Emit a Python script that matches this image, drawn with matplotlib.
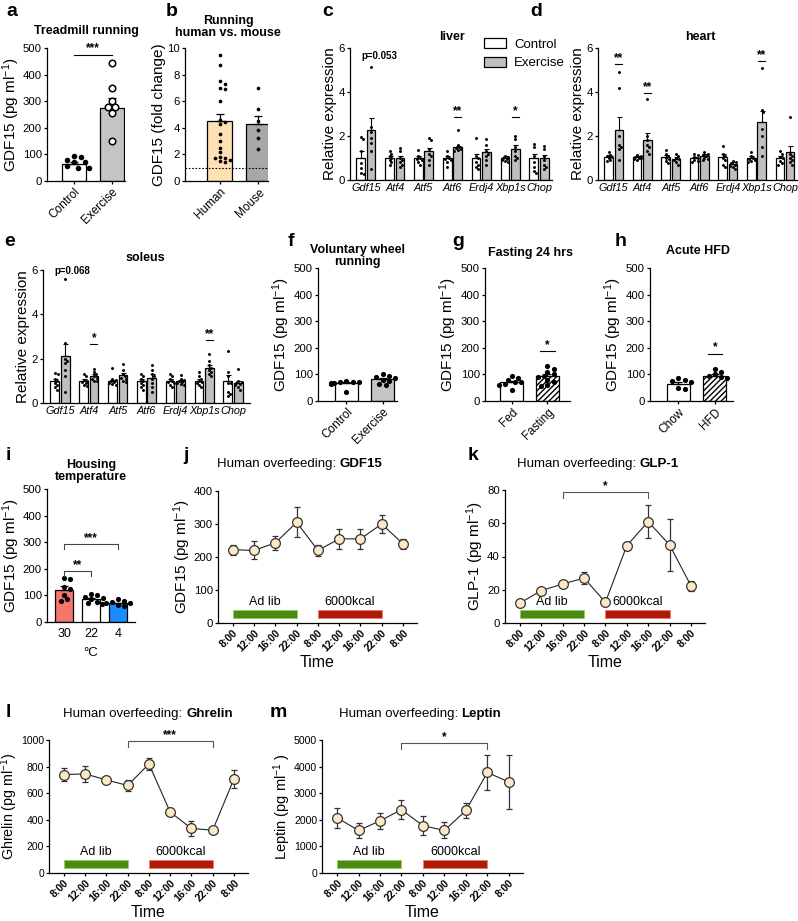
import numpy as np
import matplotlib
matplotlib.use("Agg")
import matplotlib.pyplot as plt
from matplotlib.patches import Rectangle, Patch

plt.rcParams['font.family'] = ['Liberation Sans', 'DejaVu Sans']
plt.rcParams['mathtext.fontset'] = 'custom'
plt.rcParams['mathtext.rm'] = 'Liberation Sans'
plt.rcParams['mathtext.it'] = 'Liberation Sans:italic'
plt.rcParams['mathtext.bf'] = 'Liberation Sans:bold'
plt.rcParams['axes.linewidth'] = 0.9
plt.rcParams['xtick.major.width'] = 0.9
plt.rcParams['ytick.major.width'] = 0.9
plt.rcParams['xtick.major.size'] = 2.5
plt.rcParams['ytick.major.size'] = 2.5
plt.rcParams['hatch.linewidth'] = 1.0

W, H = 798, 921
fig = plt.figure(figsize=(W / 100, H / 100), dpi=100)

# ------------------------------------------------------------------ data
# a: treadmill running
a_groups = ["Control", "Exercise"]
a_means = [65, 273]
a_sems = [8, 38]
a_pts = [[95, 90, 80, 70, 70, 55, 50, 50], [445, 350, 300, 280, 280, 255, 150]]

# b: running human vs mouse
b_groups = ["Human", "Mouse"]
b_means = [4.5, 4.25]
b_sems = [0.55, 0.6]
b_pts = [[9.5, 8.7, 7.5, 7.3, 7.0, 6.9, 6.0, 4.6, 4.4, 4.3, 3.5, 3.0, 2.5, 2.2,
          1.8, 1.7, 1.6, 1.5, 1.4, 1.7],
         [7.0, 5.4, 4.5, 3.8, 3.2, 2.4]]

genes = ["Gdf15", "Atf4", "Atf5", "Atf6", "Erdj4", "Xbp1s", "Chop"]

# c: liver
c_ctrl_mean = [1.0, 1.0, 1.0, 1.0, 1.0, 1.0, 1.0]
c_ctrl_sem = [0.3, 0.08, 0.08, 0.1, 0.18, 0.07, 0.2]
c_ex_mean = [2.28, 0.98, 1.3, 1.48, 1.28, 1.42, 1.0]
c_ex_sem = [0.55, 0.12, 0.15, 0.08, 0.15, 0.15, 0.12]
c_ctrl_pts = [[1.95, 1.85, 1.3, 0.75, 0.55, 0.3, 0.25], [1.3, 1.2, 1.1, 1.0, 0.9, 0.8, 0.7],
              [1.35, 1.1, 1.0, 0.95, 0.9, 0.8, 0.7], [1.3, 1.1, 1.0, 0.95, 0.9, 0.8, 0.6],
              [1.9, 1.1, 1.0, 0.8, 0.7, 0.6, 0.5], [1.1, 1.05, 1.0, 0.95, 0.9, 0.85, 0.8],
              [1.65, 1.5, 1.1, 0.8, 0.6, 0.4, 0.3]]
c_ex_pts = [[5.15, 2.4, 2.2, 1.9, 1.7, 1.3, 0.5], [1.45, 1.3, 1.0, 0.9, 0.8, 0.7, 0.6],
            [1.9, 1.8, 1.4, 1.2, 1.1, 0.9, 0.7], [2.25, 1.6, 1.5, 1.45, 1.4, 1.35, 1.3],
            [1.85, 1.6, 1.3, 1.2, 1.1, 0.9, 0.7], [2.0, 1.85, 1.5, 1.3, 1.1, 1.0, 0.9],
            [1.55, 1.4, 1.1, 0.9, 0.7, 0.6, 0.5]]

# d: heart
d_ctrl_mean = [1.05, 1.03, 1.05, 1.0, 1.05, 1.0, 1.0]
d_ctrl_sem = [0.07, 0.04, 0.1, 0.06, 0.12, 0.07, 0.1]
d_ex_mean = [2.28, 1.8, 0.95, 1.1, 0.72, 2.65, 1.25]
d_ex_sem = [0.58, 0.35, 0.08, 0.08, 0.08, 0.5, 0.3]
d_ctrl_pts = [[1.25, 1.15, 1.1, 1.05, 1.0, 0.9, 0.85], [1.15, 1.1, 1.05, 1.0, 1.0, 0.95, 0.9],
              [1.35, 1.2, 1.1, 1.0, 0.95, 0.85, 0.75], [1.2, 1.15, 1.05, 1.0, 0.9, 0.85, 0.8],
              [1.55, 1.2, 1.1, 1.0, 0.9, 0.7, 0.6], [1.25, 1.1, 1.0, 0.95, 0.9, 0.85, 0.8],
              [1.3, 1.2, 1.05, 1.0, 0.85, 0.75, 0.7]]
d_ex_pts = [[4.9, 4.2, 2.0, 1.6, 1.5, 1.4, 0.9], [3.7, 2.0, 1.8, 1.6, 1.5, 1.3, 1.2],
            [1.2, 1.1, 1.0, 0.95, 0.9, 0.8, 0.7], [1.25, 1.2, 1.15, 1.1, 1.0, 0.95, 0.9],
            [0.85, 0.8, 0.75, 0.7, 0.65, 0.6, 0.5], [5.1, 3.2, 3.1, 2.3, 2.0, 1.5, 1.1],
            [2.85, 1.2, 1.1, 1.0, 0.9, 0.8, 0.7]]

# e: soleus
e_ctrl_mean = [1.0, 1.0, 1.0, 1.0, 1.0, 1.0, 1.0]
e_ctrl_sem = [0.08, 0.07, 0.06, 0.08, 0.07, 0.08, 0.25]
e_ex_mean = [2.1, 1.22, 1.25, 1.15, 1.0, 1.6, 0.9]
e_ex_sem = [0.55, 0.1, 0.12, 0.15, 0.06, 0.12, 0.1]
e_ctrl_pts = [[1.35, 1.3, 1.1, 1.0, 0.9, 0.8, 0.6, 0.7], [1.3, 1.2, 1.05, 1.0, 0.95, 0.9, 0.8, 0.75],
              [1.6, 1.1, 1.05, 1.0, 0.95, 0.9, 0.85, 0.8], [1.3, 1.2, 1.1, 1.0, 0.9, 0.8, 0.7, 0.6],
              [1.3, 1.2, 1.1, 1.0, 0.95, 0.9, 0.8, 0.7], [1.4, 1.2, 1.1, 1.0, 0.95, 0.9, 0.8, 0.7],
              [2.35, 1.4, 1.2, 0.9, 0.5, 0.4, 0.3, 0.9]]
e_ex_pts = [[5.6, 2.7, 2.0, 1.9, 1.8, 1.5, 1.2, 0.5], [1.55, 1.4, 1.3, 1.2, 1.15, 1.1, 1.0, 1.0],
            [1.75, 1.5, 1.3, 1.2, 1.15, 1.1, 1.0, 0.95], [1.7, 1.5, 1.3, 1.2, 1.1, 0.9, 0.7, 0.5],
            [1.25, 1.1, 1.05, 1.0, 0.95, 0.9, 0.85, 0.8], [2.2, 1.9, 1.7, 1.6, 1.5, 1.4, 1.3, 1.2],
            [1.55, 1.0, 0.95, 0.9, 0.85, 0.8, 0.7, 0.6]]

# f, g, h
f_groups = ["Control", "Exercise"]
f_means = [68, 82]
f_sems = [5, 5]
f_pts = [[75, 72, 70, 70, 68, 67, 65, 35], [100, 95, 90, 85, 80, 75, 65, 60]]
g_groups = ["Fed", "Fasting"]
g_means = [70, 93]
g_sems = [6, 7]
g_pts = [[95, 85, 80, 70, 70, 65, 60, 40], [130, 120, 110, 100, 95, 90, 80, 70, 60, 55]]
h_groups = ["Chow", "HFD"]
h_means = [65, 95]
h_sems = [7, 6]
h_pts = [[85, 80, 75, 70, 50, 45], [120, 110, 100, 95, 90, 85]]

# i: housing temperature
i_groups = ["30", "22", "4"]
i_means = [122, 85, 70]
i_sems = [12, 5, 3]
i_pts = [[165, 160, 130, 125, 100, 85, 80], [105, 100, 95, 90, 85, 75, 70],
         [85, 80, 75, 72, 70, 68, 65, 60]]

# j-m: human overfeeding time courses
time_labels = ["8:00", "12:00", "16:00", "22:00", "8:00", "12:00", "16:00", "22:00", "8:00"]
j_mean = [222, 220, 243, 305, 220, 255, 255, 300, 240]
j_err = [15, 27, 22, 45, 17, 30, 30, 28, 15]
k_mean = [12, 19.5, 23.5, 27, 12.5, 46.5, 61, 47, 22.5]
k_err = [0.5, 1, 1.5, 3.5, 0.5, 2.5, 10, 15.5, 3]
l_mean = [740, 745, 700, 658, 820, 458, 335, 322, 708]
l_err = [50, 60, 15, 45, 45, 15, 55, 15, 70]
m_mean = [2080, 1600, 1960, 2380, 1780, 1600, 2350, 3780, 3420]
m_err = [370, 290, 310, 350, 350, 300, 300, 650, 1000]

TICK = 8.2
YLAB = 11


# ------------------------------------------------------------------ helpers
def add_ax(l, t, r, b):
    ax = fig.add_axes([l / W, 1 - b / H, (r - l) / W, (b - t) / H])
    ax.spines['top'].set_visible(False)
    ax.spines['right'].set_visible(False)
    ax.tick_params(labelsize=TICK, pad=1.2)
    return ax


def swarm(ax, vals, ymax, dot_px, spread_units_per_px):
    """deterministic beeswarm offsets"""
    bbox = ax.get_position()
    hpx = bbox.height * H
    order = np.argsort(vals)[::-1]
    placed = []
    offs = np.zeros(len(vals))
    for idx in order:
        y = vals[idx] / ymax * hpx
        for k in [0, 1, -1, 2, -2, 3, -3, 4, -4, 5, -5]:
            x = k * dot_px * 0.62
            if all((x - px) ** 2 + (y - py) ** 2 >= (dot_px * 0.95) ** 2 for px, py in placed):
                break
        placed.append((x, y))
        offs[idx] = x * spread_units_per_px
    return offs


def letter(x, y, s):
    fig.text(x / W, 1 - y / H, s, fontsize=14, fontweight='bold', va='center', ha='left')


def title(x, y, s, size=9):
    fig.text(x / W, 1 - y / H, s, fontsize=size, fontweight='bold', ha='center', va='center',
             linespacing=1.1)


def bar_panel(ax, means, sems, pts, colors, ymax, xlim, dot_px=6, hatches=None,
              open_idx=(), labels=None, rot=45, dot_size=16):
    x = np.arange(len(means))
    for i_ in range(len(means)):
        ax.bar(x[i_], means[i_], width=0.64, color=colors[i_], edgecolor='black', linewidth=0.9,
               hatch=None if hatches is None else hatches[i_], zorder=2)
        ax.errorbar(x[i_], means[i_], yerr=[[0], [sems[i_]]], color='black', capsize=3,
                    elinewidth=0.9, capthick=0.9, zorder=3)
    bbox = ax.get_position()
    upp = (xlim[1] - xlim[0]) / (bbox.width * W)
    for i_, p in enumerate(pts):
        p = np.array(p, float)
        off = swarm(ax, p, ymax, dot_px, upp)
        if i_ in open_idx:
            ax.scatter(x[i_] + off, p, s=dot_size + 6, facecolor='white', edgecolor='black',
                       linewidth=1.1, zorder=4)
        else:
            ax.scatter(x[i_] + off, p, s=dot_size, color='black', zorder=4, linewidth=0)
    ax.set_xlim(*xlim)
    ax.set_ylim(0, ymax)
    ax.set_xticks(x)
    if rot:
        ax.set_xticklabels(labels, rotation=45, ha='right', rotation_mode='anchor', fontsize=8.5)
    else:
        ax.set_xticklabels(labels, fontsize=9)


def gene_panel(ax, cm, cs, em, es, cp, ep, xlim):
    x = np.arange(len(genes))
    off = 0.18
    w = 0.3
    ax.bar(x - off, cm, width=w, color='white', edgecolor='black', linewidth=0.9, zorder=2)
    ax.bar(x + off, em, width=w, color='#bfbfbf', edgecolor='black', linewidth=0.9, zorder=2)
    ax.errorbar(x - off, cm, yerr=[np.zeros(len(x)), cs], fmt='none', color='black',
                capsize=1.8, elinewidth=0.8, capthick=0.8, zorder=3)
    ax.errorbar(x + off, em, yerr=[np.zeros(len(x)), es], fmt='none', color='black',
                capsize=1.8, elinewidth=0.8, capthick=0.8, zorder=3)
    bbox = ax.get_position()
    upp = (xlim[1] - xlim[0]) / (bbox.width * W)
    for g in range(len(x)):
        for pts, sh in ((cp[g], -off), (ep[g], off)):
            p = np.array(pts, float)
            o = swarm(ax, p, 6, 3.0, upp)
            o = np.clip(o, -0.12, 0.12)
            ax.scatter(x[g] + sh + o, p, s=4.5, color='black', zorder=4, linewidth=0)
    ax.set_xlim(*xlim)
    ax.set_ylim(0, 6)
    ax.set_yticks([0, 2, 4, 6])
    ax.set_xticks(x)
    ax.set_xticklabels(genes, fontstyle='italic', fontsize=7.8)
    ax.tick_params(axis='x', length=0, pad=2)
    ax.set_ylabel("Relative expression", fontsize=11, labelpad=1)


def sig_line(ax, x0, x1, y, txt, tick=0.0, fs=8.5, color='black'):
    if tick:
        ax.plot([x0, x0, x1, x1], [y - tick, y, y, y - tick], color=color, lw=0.8,
                clip_on=False, zorder=5)
    else:
        ax.plot([x0, x1], [y, y], color=color, lw=0.8, clip_on=False, zorder=5)
    ax.text((x0 + x1) / 2, y, txt, ha='center', va='bottom', fontsize=fs, fontweight='bold',
            clip_on=False)


def time_panel(ax, means, errs, ymax, step, ylabel, ylab_size=YLAB):
    x = np.arange(len(means))
    ax.errorbar(x, means, yerr=errs, fmt='none', ecolor='#333333', elinewidth=0.9,
                capsize=2.2, capthick=0.9, zorder=2)
    ax.plot(x, means, '-', color='#222222', lw=0.8, zorder=3)
    ax.plot(x, means, 'o', ms=7, mfc='#fde8c8', mec='#333333', mew=0.9, zorder=4)
    ax.set_xlim(-0.7, 8.66)
    ax.set_ylim(0, ymax)
    ax.set_yticks(np.arange(0, ymax + 1, step))
    ax.set_xticks(x)
    ax.set_xticklabels(time_labels, rotation=45, ha='right', rotation_mode='anchor',
                       fontsize=7.4, fontweight='bold')
    ax.set_xlabel("Time", fontsize=11.5, labelpad=1)
    ax.set_ylabel(ylabel, fontsize=ylab_size, labelpad=0.5)
    y0, y1 = 0.035 * ymax, 0.10 * ymax
    ax.add_patch(Rectangle((0, y0), 3, y1 - y0, facecolor='#4a8a13', edgecolor='#8fd15a',
                           lw=0.6, zorder=1))
    ax.add_patch(Rectangle((4, y0), 3, y1 - y0, facecolor='#b01a08', edgecolor='#f07a6a',
                           lw=0.6, zorder=1))
    ax.text(1.5, y1 + 0.01 * ymax, "Ad lib", ha='center', va='bottom', fontsize=9)
    ax.text(5.5, y1 + 0.01 * ymax, "6000kcal", ha='center', va='bottom', fontsize=9)


ylab = "GDF15 (pg ml$^{-1}$)"

# ------------------------------------------------------------------ a
ax = add_ax(47, 48, 125, 181)
bar_panel(ax, a_means, a_sems, a_pts, ['white', '#c4c4c4'], 500, (-0.72, 1.36),
          dot_px=6, open_idx=(1,), labels=a_groups)
ax.set_yticks(range(0, 501, 100))
ax.set_ylabel(ylab, fontsize=YLAB, labelpad=0.5)
sig_line(ax, 0, 1, 475, "***")
title(86, 31, "Treadmill running")
letter(6, 12, "a")

# ------------------------------------------------------------------ b
ax = add_ax(185, 48, 268, 181)
bar_panel(ax, b_means, b_sems, b_pts, ['#fde1b5', '#a8a8a8'], 10, (-0.9, 1.25),
          dot_px=4, labels=b_groups, dot_size=7)
ax.set_yticks(range(0, 11, 2))
ax.axhline(1, color='black', ls=(0, (1.5, 1.5)), lw=0.8, zorder=5)
ax.set_ylabel("GDF15 (fold change)", fontsize=YLAB, labelpad=1)
title(228, 27, "Running\nhuman vs. mouse")
letter(166, 12, "b")

# ------------------------------------------------------------------ c
ax = add_ax(350, 48, 552, 180)
gene_panel(ax, c_ctrl_mean, c_ctrl_sem, c_ex_mean, c_ex_sem, c_ctrl_pts, c_ex_pts, (-0.55, 6.45))
ax.text(-0.15, 5.4, "p=0.053", fontsize=7, fontweight='bold', ha='left', va='bottom')
sig_line(ax, 3.05, 3.3, 2.85, "**")
sig_line(ax, 5.05, 5.3, 2.85, "*")
title(452, 37, "liver")
leg = ax.legend(handles=[Patch(facecolor='white', edgecolor='black', lw=0.9, label='Control'),
                         Patch(facecolor='#bfbfbf', edgecolor='black', lw=0.9, label='Exercise')],
                loc='upper left', bbox_to_anchor=(484 / W, 1 - 38 / H),
                bbox_transform=fig.transFigure, frameon=False, fontsize=9.5,
                handlelength=1.7, handleheight=0.8, labelspacing=0.45, handletextpad=0.6,
                borderaxespad=0, borderpad=0)
letter(322, 12, "c")

# ------------------------------------------------------------------ d
ax = add_ax(598, 48, 797, 180)
gene_panel(ax, d_ctrl_mean, d_ctrl_sem, d_ex_mean, d_ex_sem, d_ctrl_pts, d_ex_pts, (-0.55, 6.42))
sig_line(ax, 0.05, 0.3, 5.25, "**")
sig_line(ax, 1.05, 1.3, 3.95, "**")
sig_line(ax, 5.05, 5.3, 5.4, "**")
title(700, 37, "heart")
letter(530, 12, "d")

# ------------------------------------------------------------------ e
ax = add_ax(43, 270, 250, 403)
gene_panel(ax, e_ctrl_mean, e_ctrl_sem, e_ex_mean, e_ex_sem, e_ctrl_pts, e_ex_pts, (-0.59, 6.59))
ax.text(-0.2, 5.75, "p=0.068", fontsize=7, fontweight='bold', ha='left', va='bottom')
sig_line(ax, 1.05, 1.3, 2.65, "*")
sig_line(ax, 5.05, 5.3, 2.85, "**")
title(145, 258, "soleus")
letter(4, 242, "e")

# ------------------------------------------------------------------ f
ax = add_ax(318, 268, 397, 401)
bar_panel(ax, f_means, f_sems, f_pts, ['white', '#c4c4c4'], 500, (-0.79, 1.4),
          dot_px=5, labels=f_groups, dot_size=14)
ax.set_yticks(range(0, 501, 100))
ax.set_ylabel(ylab, fontsize=YLAB, labelpad=1)
title(357, 256, "Voluntary wheel\nrunning")
letter(288, 242, "f")

# ------------------------------------------------------------------ g
ax = add_ax(485, 268, 570, 401)
bar_panel(ax, g_means, g_sems, g_pts, ['white', 'white'], 500, (-0.74, 1.63),
          dot_px=5, labels=g_groups, hatches=[None, '//////'], dot_size=14)
ax.set_yticks(range(0, 501, 100))
ax.set_ylabel(ylab, fontsize=YLAB, labelpad=1)
sig_line(ax, 0.8, 1.2, 188, "*")
title(530, 253, "Fasting 24 hrs")
letter(452, 242, "g")

# ------------------------------------------------------------------ h
ax = add_ax(650, 268, 733, 401)
bar_panel(ax, h_means, h_sems, h_pts, ['white', 'white'], 500, (-0.78, 1.5),
          dot_px=5, labels=h_groups, hatches=[None, '//////'], dot_size=14)
ax.set_yticks(range(0, 501, 100))
ax.set_ylabel(ylab, fontsize=YLAB, labelpad=1)
sig_line(ax, 0.8, 1.2, 178, "*")
title(698, 251, "Acute HFD")
letter(615, 242, "h")

# ------------------------------------------------------------------ i
ax = add_ax(47, 489, 135, 622)
bar_panel(ax, i_means, i_sems, i_pts, ['#f4766e', 'white', '#1a8cff'], 500, (-0.63, 2.63),
          dot_px=5, labels=i_groups, rot=0, dot_size=14)
ax.set_yticks(range(0, 501, 100))
ax.set_ylabel(ylab, fontsize=YLAB, labelpad=0.5)
ax.set_xlabel("°C", fontsize=9.5, labelpad=5)
ax.tick_params(axis='x', length=0, pad=4)
sig_line(ax, 0, 1, 190, "**", tick=18, color='#444444')
sig_line(ax, 0, 2, 293, "***", tick=18, color='#444444')
title(91, 471, "Housing\ntemperature")
letter(6, 455, "i")

# ------------------------------------------------------------------ j
ax = add_ax(218, 491, 417, 623)
time_panel(ax, j_mean, j_err, 400, 100, ylab)
letter(183, 455, "j")

# ------------------------------------------------------------------ k
ax = add_ax(505, 490, 705, 623)
time_panel(ax, k_mean, k_err, 80, 20, "GLP-1 (pg ml$^{-1}$)")
sig_line(ax, 2, 6, 78.5, "*", tick=3.5, color='#555555')
letter(468, 455, "k")

# ------------------------------------------------------------------ l
ax = add_ax(49, 740, 248, 873)
time_panel(ax, l_mean, l_err, 1000, 200, "Ghrelin (pg ml$^{-1}$)", ylab_size=10.3)
ax.tick_params(axis='y', labelsize=7.5, pad=1)
sig_line(ax, 3, 7, 990, "***", tick=45, color='#555555')
letter(6, 712, "l")

# ------------------------------------------------------------------ m
ax = add_ax(322, 740, 523, 873)
time_panel(ax, m_mean, m_err, 5000, 1000, "Leptin (pg ml$^{-1}$ )", ylab_size=10.5)
ax.tick_params(axis='y', labelsize=7.6, pad=1)
sig_line(ax, 3, 7, 4880, "*", tick=220, color='#555555')
letter(270, 712, "m")

# mixed regular/bold titles
fig.canvas.draw()
r = fig.canvas.get_renderer()
for cx, cy, plain, bold in [(300, 467, "Human overfeeding: ", "GDF15"),
                            (598, 467, "Human overfeeding: ", "GLP-1"),
                            (148, 717, "Human overfeeding: ", "Ghrelin"),
                            (420, 717, "Human overfeeding: ", "Leptin")]:
    t1 = fig.text(0, 1 - cy / H, plain, fontsize=9.5, ha='left', va='baseline')
    t2 = fig.text(0, 1 - cy / H, bold, fontsize=9.5, fontweight='bold', ha='left', va='baseline')
    w1 = t1.get_window_extent(r).width
    w2 = t2.get_window_extent(r).width
    x0 = cx - (w1 + w2) / 2
    t1.set_x(x0 / W)
    t2.set_x((x0 + w1) / W)

fig.savefig("out.png", dpi=100)
